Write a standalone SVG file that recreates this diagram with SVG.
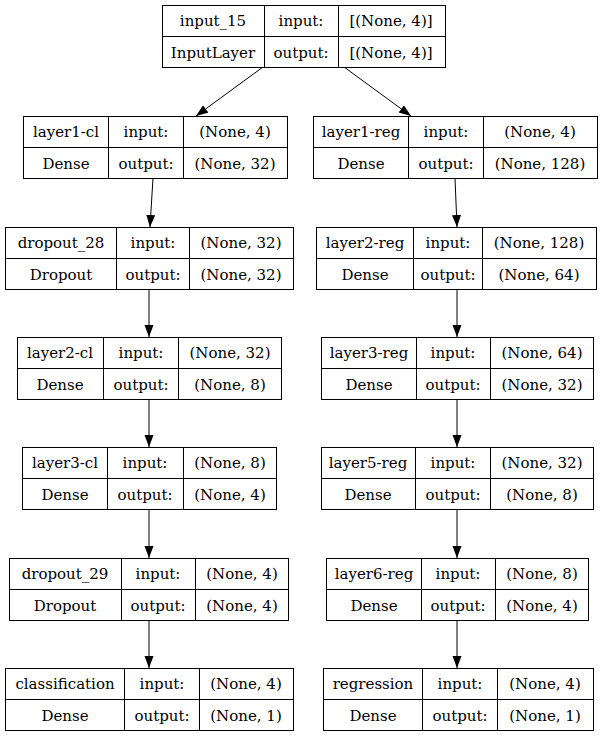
<svg xmlns="http://www.w3.org/2000/svg" width="603" height="737" viewBox="0 0 603 737">
<defs>
<marker id="ah" markerUnits="userSpaceOnUse" markerWidth="13" markerHeight="10" refX="12" refY="4.5" orient="auto"><path d="M0,0 L12,4.5 L0,9 z" fill="#000"/></marker>
<style>
.b{fill:#fff;stroke:#000;stroke-width:1}
.l{stroke:#000;stroke-width:1;fill:none}
.e{stroke:#000;stroke-width:1;fill:none;marker-end:url(#ah)}
text{font-family:"DejaVu Serif","Liberation Serif",serif;font-size:15px;text-anchor:middle;fill:#000}
</style>
</defs>
<rect width="603" height="737" fill="#fff"/>
<g id="connectors">
<line class="e" x1="263" y1="67" x2="196" y2="116"/>
<line class="e" x1="344" y1="67" x2="411" y2="116"/>
<line class="e" x1="153" y1="178" x2="150" y2="227"/>
<line class="e" x1="149" y1="289" x2="149" y2="337"/>
<line class="e" x1="149" y1="399" x2="149" y2="447"/>
<line class="e" x1="149" y1="509" x2="149" y2="558"/>
<line class="e" x1="149" y1="620" x2="149" y2="668"/>
<line class="e" x1="455" y1="178" x2="457" y2="227"/>
<line class="e" x1="457" y1="289" x2="457" y2="337"/>
<line class="e" x1="457" y1="399" x2="457" y2="447"/>
<line class="e" x1="457" y1="509" x2="457" y2="558"/>
<line class="e" x1="457" y1="620" x2="457" y2="668"/>
</g>
<g id="input_15">
<rect class="b" x="162.5" y="5.5" width="283" height="62"/>
<path class="l" d="M162.5,36.5H445.5M264.5,5.5V67.5M338.5,5.5V67.5"/>
<text x="213" y="26">input_15</text><text x="301" y="26">input:</text><text x="391" y="26">[(None, 4)]</text>
<text x="213" y="58">InputLayer</text><text x="301" y="58">output:</text><text x="391" y="58">[(None, 4)]</text>
</g>
<g id="layer1-cl">
<rect class="b" x="23.5" y="116.5" width="264" height="62"/>
<path class="l" d="M23.5,147.5H287.5M108.5,116.5V178.5M183.5,116.5V178.5"/>
<text x="66" y="137">layer1-cl</text><text x="146" y="137">input:</text><text x="235" y="137">(None, 4)</text>
<text x="66" y="169">Dense</text><text x="146" y="169">output:</text><text x="235" y="169">(None, 32)</text>
</g>
<g id="layer1-reg">
<rect class="b" x="313.5" y="116.5" width="284" height="62"/>
<path class="l" d="M313.5,147.5H597.5M408.5,116.5V178.5M483.5,116.5V178.5"/>
<text x="361" y="137">layer1-reg</text><text x="446" y="137">input:</text><text x="540" y="137">(None, 4)</text>
<text x="361" y="169">Dense</text><text x="446" y="169">output:</text><text x="540" y="169">(None, 128)</text>
</g>
<g id="dropout_28">
<rect class="b" x="5.5" y="227.5" width="288" height="62"/>
<path class="l" d="M5.5,258.5H293.5M116.5,227.5V289.5M189.5,227.5V289.5"/>
<text x="61" y="248">dropout_28</text><text x="153" y="248">input:</text><text x="241" y="248">(None, 32)</text>
<text x="61" y="280">Dropout</text><text x="153" y="280">output:</text><text x="241" y="280">(None, 32)</text>
</g>
<g id="layer2-reg">
<rect class="b" x="316.5" y="227.5" width="280" height="62"/>
<path class="l" d="M316.5,258.5H596.5M413.5,227.5V289.5M482.5,227.5V289.5"/>
<text x="365" y="248">layer2-reg</text><text x="448" y="248">input:</text><text x="539" y="248">(None, 128)</text>
<text x="365" y="280">Dense</text><text x="448" y="280">output:</text><text x="539" y="280">(None, 64)</text>
</g>
<g id="layer2-cl">
<rect class="b" x="17.5" y="337.5" width="264" height="62"/>
<path class="l" d="M17.5,368.5H281.5M103.5,337.5V399.5M178.5,337.5V399.5"/>
<text x="60" y="358">layer2-cl</text><text x="141" y="358">input:</text><text x="230" y="358">(None, 32)</text>
<text x="60" y="390">Dense</text><text x="141" y="390">output:</text><text x="230" y="390">(None, 8)</text>
</g>
<g id="layer3-reg">
<rect class="b" x="321.5" y="337.5" width="272" height="62"/>
<path class="l" d="M321.5,368.5H593.5M416.5,337.5V399.5M490.5,337.5V399.5"/>
<text x="369" y="358">layer3-reg</text><text x="453" y="358">input:</text><text x="542" y="358">(None, 64)</text>
<text x="369" y="390">Dense</text><text x="453" y="390">output:</text><text x="542" y="390">(None, 32)</text>
</g>
<g id="layer3-cl">
<rect class="b" x="22.5" y="447.5" width="254" height="62"/>
<path class="l" d="M22.5,478.5H276.5M107.5,447.5V509.5M183.5,447.5V509.5"/>
<text x="65" y="468">layer3-cl</text><text x="145" y="468">input:</text><text x="230" y="468">(None, 8)</text>
<text x="65" y="500">Dense</text><text x="145" y="500">output:</text><text x="230" y="500">(None, 4)</text>
</g>
<g id="layer5-reg">
<rect class="b" x="321.5" y="447.5" width="272" height="62"/>
<path class="l" d="M321.5,478.5H593.5M415.5,447.5V509.5M490.5,447.5V509.5"/>
<text x="368" y="468">layer5-reg</text><text x="453" y="468">input:</text><text x="542" y="468">(None, 32)</text>
<text x="368" y="500">Dense</text><text x="453" y="500">output:</text><text x="542" y="500">(None, 8)</text>
</g>
<g id="dropout_29">
<rect class="b" x="9.5" y="558.5" width="279" height="62"/>
<path class="l" d="M9.5,589.5H288.5M121.5,558.5V620.5M195.5,558.5V620.5"/>
<text x="65" y="579">dropout_29</text><text x="158" y="579">input:</text><text x="242" y="579">(None, 4)</text>
<text x="65" y="611">Dropout</text><text x="158" y="611">output:</text><text x="242" y="611">(None, 4)</text>
</g>
<g id="layer6-reg">
<rect class="b" x="326.5" y="558.5" width="262" height="62"/>
<path class="l" d="M326.5,589.5H588.5M421.5,558.5V620.5M495.5,558.5V620.5"/>
<text x="374" y="579">layer6-reg</text><text x="458" y="579">input:</text><text x="542" y="579">(None, 8)</text>
<text x="374" y="611">Dense</text><text x="458" y="611">output:</text><text x="542" y="611">(None, 4)</text>
</g>
<g id="classification">
<rect class="b" x="5.5" y="668.5" width="288" height="62"/>
<path class="l" d="M5.5,699.5H293.5M124.5,668.5V730.5M199.5,668.5V730.5"/>
<text x="65" y="689">classification</text><text x="162" y="689">input:</text><text x="246" y="689">(None, 4)</text>
<text x="65" y="721">Dense</text><text x="162" y="721">output:</text><text x="246" y="721">(None, 1)</text>
</g>
<g id="regression">
<rect class="b" x="323.5" y="668.5" width="270" height="62"/>
<path class="l" d="M323.5,699.5H593.5M422.5,668.5V730.5M497.5,668.5V730.5"/>
<text x="373" y="689">regression</text><text x="460" y="689">input:</text><text x="545" y="689">(None, 4)</text>
<text x="373" y="721">Dense</text><text x="460" y="721">output:</text><text x="545" y="721">(None, 1)</text>
</g>
</svg>
